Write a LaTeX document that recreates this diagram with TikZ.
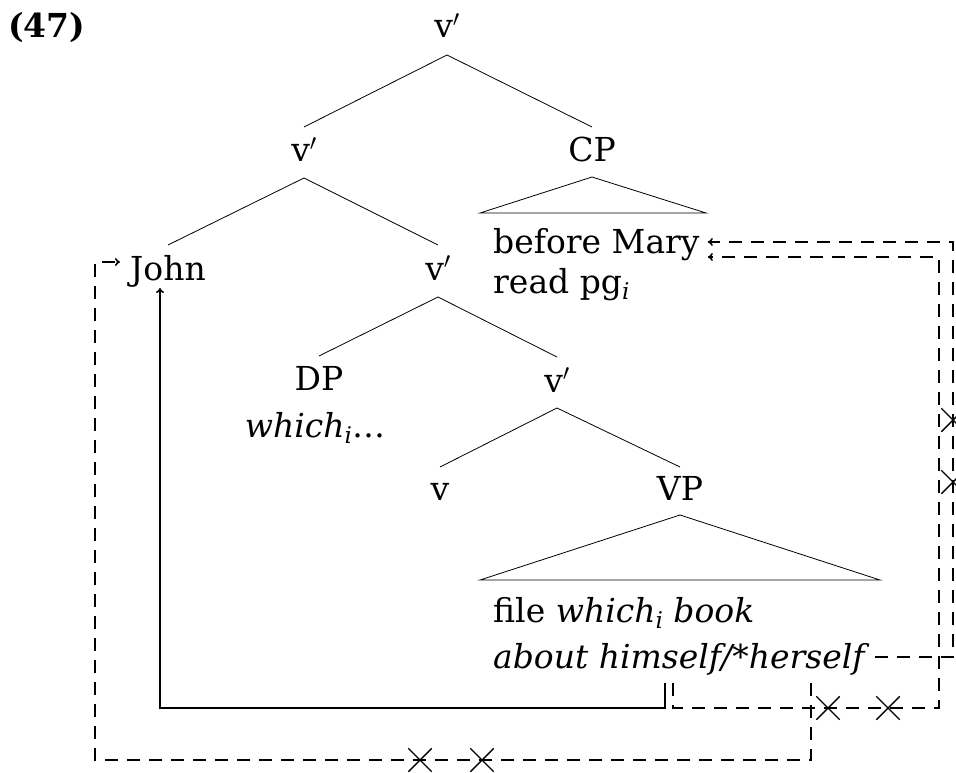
\RequirePackage{fix-cm}
\documentclass[tikz,border=0pt]{standalone}
\usepackage{fontspec}
\setmainfont{DejaVu Serif}
\usetikzlibrary{arrows.meta,shapes.misc}
% italic index letter set low and small
\newcommand\idx[1]{\raisebox{-0.2em}{\fontsize{23}{23}\selectfont\itshape #1}}
\begin{document}
\begin{tikzpicture}[x=1pt,y=-1pt,
  every node/.style={font=\fontsize{33}{39}\selectfont, inner sep=0pt},
  cat/.style={anchor=base},
  leaf/.style={anchor=base west},
  branch/.style={line width=0.8pt},
  roof/.style={line width=0.8pt, line join=miter},
  bind/.style={line width=1.6pt, -{To[length=5pt,width=8pt]}},
  nobind/.style={line width=1.6pt, dash pattern=on 13pt off 9pt, -{To[length=5pt,width=8pt]}},
  block/.style={cross out, draw, solid, line width=1.4pt, minimum size=22pt, inner sep=0pt},
]
\useasboundingbox (0,0) rectangle (956,773);

% example number
\node[leaf, font=\bfseries\fontsize{33}{39}\selectfont] (exnum) at (8,38) {(47)};

% tree categories
\node[cat] (root) at (447,38) {v$'$};
\node[cat] (vb2) at (304,162) {v$'$};
\node[cat] (cp) at (592,162) {CP};
\node[cat] (john) at (168,280) {John};
\node[cat] (vb3) at (438,280) {v$'$};
\node[cat] (dp) at (319,390) {DP};
\node[cat] (vb4) at (557,392) {v$'$};
\node[cat] (v) at (440,500) {v};
\node[cat] (vp) at (680,500) {VP};

% terminal strings
\node[cat] (whichdp) at (315,437) {\textit{which}\idx{i}\ldots};
\node[leaf] (mary) at (493,253) {before Mary};
\node[leaf] (pg) at (493,293) {read pg\idx{i}};
\node[leaf] (file) at (493,622) {file \textit{which}\idx{i} \textit{book}};
\node[leaf] (about) at (493,668) {\textit{about himself/*herself}};

% branches
\draw[branch] ([yshift=-17pt]root.base) -- ([yshift=35pt]vb2.base);
\draw[branch] ([yshift=-17pt]root.base) -- ([yshift=35pt]cp.base);
\draw[branch] ([yshift=-16pt]vb2.base) -- ([yshift=35pt]john.base);
\draw[branch] ([yshift=-16pt]vb2.base) -- ([yshift=35pt]vb3.base);
\draw[branch] ([yshift=-17pt]vb3.base) -- ([yshift=34pt]dp.base);
\draw[branch] ([yshift=-17pt]vb3.base) -- ([yshift=35pt]vb4.base);
\draw[branch] ([yshift=-16pt]vb4.base) -- ([yshift=33pt]v.base);
\draw[branch] ([yshift=-16pt]vb4.base) -- ([yshift=33pt]vp.base);

% roofs over unanalysed constituents
\draw[roof] ([yshift=-15pt]cp.base) -- ++(-112,36) -- ++(226,0) -- cycle;
\draw[roof] ([yshift=-15pt]vp.base) -- ++(-200,65) -- ++(400,0) -- cycle;

% start points of the binding lines
\coordinate (himA) at (665,683);
\coordinate (himB) at (673,683);
\coordinate (herA) at (811,683);
\coordinate (herB) at ([xshift=5pt,yshift=11pt]about.base east);

% himself -> John (licit)
\draw[bind] (himA) -- (665,708) -- (160,708) -- ([xshift=-8pt,yshift=-8pt]john.base);
% himself -> Mary (blocked)
\draw[nobind] (himB) -- (673,708) -- (939,708) -- (939,257) -- ([xshift=8pt,yshift=-4pt]mary.base east);
% herself -> Mary (blocked)
\draw[nobind] (herB) -- (herB -| 953,0) -- (953,242) -- ([xshift=8pt,yshift=11pt]mary.base east);
% herself -> John (blocked)
\draw[nobind] (herA) -- (811,760) -- (95,760) -- (95,262) -- ([xshift=-10pt,yshift=18pt]john.base west);

% blocking marks
\node[block] (x1) at (828,708) {};
\node[block] (x2) at (888,708) {};
\node[block] (x3) at (420,760) {};
\node[block] (x4) at (482,760) {};
\node[block] (x5) at (953,420) {};
\node[block] (x6) at (953,482) {};
\end{tikzpicture}
\end{document}
